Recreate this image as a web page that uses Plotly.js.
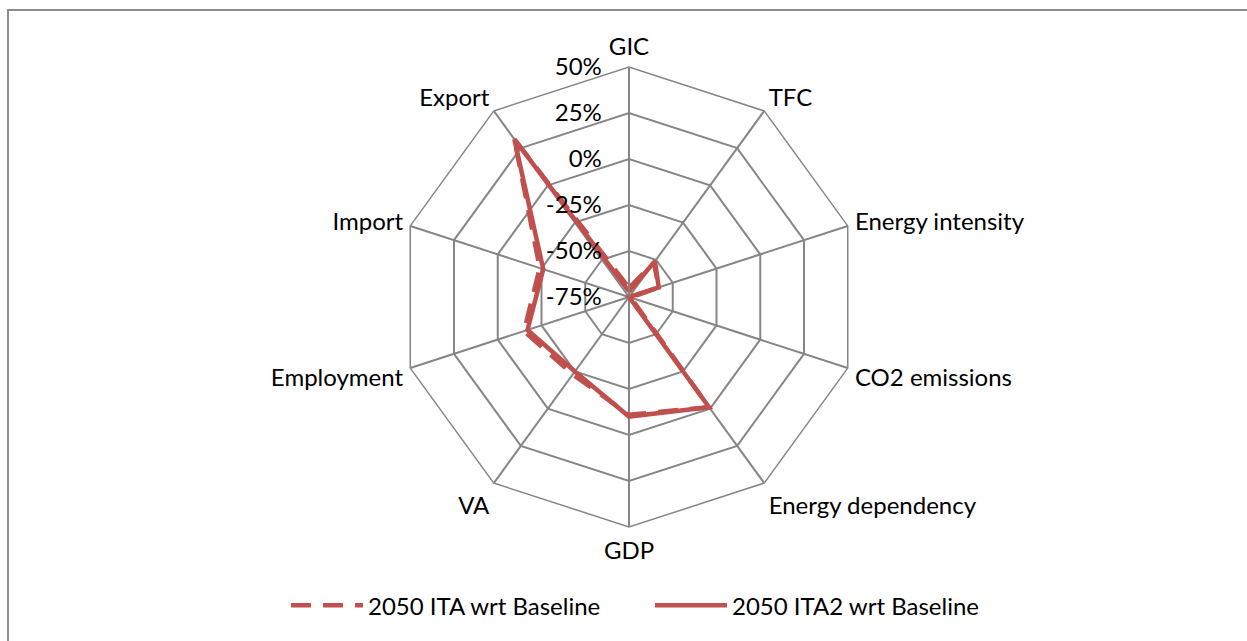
<!DOCTYPE html>
<html>
<head>
<meta charset="utf-8">
<script src="https://cdn.plot.ly/plotly-3.0.1.min.js"></script>
<style>html,body{margin:0;padding:0;background:#fff;}#chart{width:1247px;height:641px;}</style>
</head>
<body>
<div id="chart"></div>
<script>
const categories = ["GIC", "TFC", "Energy intensity", "CO2 emissions", "Energy dependency", "GDP", "VA", "Employment", "Import", "Export"];
const ita = [-70, -52, -58, -74, -1, -11, -23, -15, -24, 31];
const ita2 = [-72, -51, -58, -75, -1, -10, -25, -17, -26, 31];
const seriesNames = ["2050 ITA wrt Baseline", "2050 ITA2 wrt Baseline"];
const radialTicks = [-75, -50, -25, 0, 25, 50];

const close = a => a.concat([a[0]]);
const red = "#C0504D";
const traces = [
  {type: "scatterpolar", mode: "lines", name: seriesNames[0], r: close(ita), theta: close(categories),
   line: {color: red, width: 4.5, dash: "20px,12px"}},
  {type: "scatterpolar", mode: "lines", name: seriesNames[1], r: close(ita2), theta: close(categories),
   line: {color: red, width: 4.5}}
];
const layout = {
  width: 1247, height: 641,
  margin: {l: 0, r: 0, t: 0, b: 0},
  paper_bgcolor: "#fff",
  font: {family: "Lato, 'Noto Sans', sans-serif", size: 24, color: "#000"},
  showlegend: true,
  legend: {orientation: "h", x: 286/1247, xanchor: "left", y: 0.02, yanchor: "bottom",
           font: {size: 24}, itemwidth: 72, tracegroupgap: 0, entrywidth: 277, entrywidthmode: "pixels"},
  polar: {
    domain: {x: [399/1247, 859/1247], y: [(641-527)/641, (641-67)/641]},
    gridshape: "linear",
    bgcolor: "rgba(0,0,0,0)",
    angularaxis: {rotation: 90, direction: "clockwise", showline: true, linecolor: "#868686", linewidth: 1.5,
                  gridcolor: "#868686", gridwidth: 1.5, ticks: "outside", ticklen: 2, tickcolor: "rgba(0,0,0,0)",
                  tickfont: {size: 24}},
    radialaxis: {range: [-75, 50], tickvals: radialTicks, ticktext: radialTicks.map(v => v + "%"),
                 angle: 90, tickangle: 90, side: "counterclockwise", showline: true, linecolor: "#868686", linewidth: 1.5,
                 gridcolor: "#868686", gridwidth: 1.5, ticks: "outside", ticklen: 18, tickcolor: "rgba(0,0,0,0)",
                 tickfont: {size: 24}}
  },
  shapes: [{type: "rect", xref: "paper", yref: "paper", x0: 8/1247, x1: 1.01, y0: -0.01, y1: 1 - 10/641,
            line: {color: "#8c8c8c", width: 2}}]
};
Plotly.newPlot("chart", traces, layout, {displayModeBar: false});
</script>
</body>
</html>
